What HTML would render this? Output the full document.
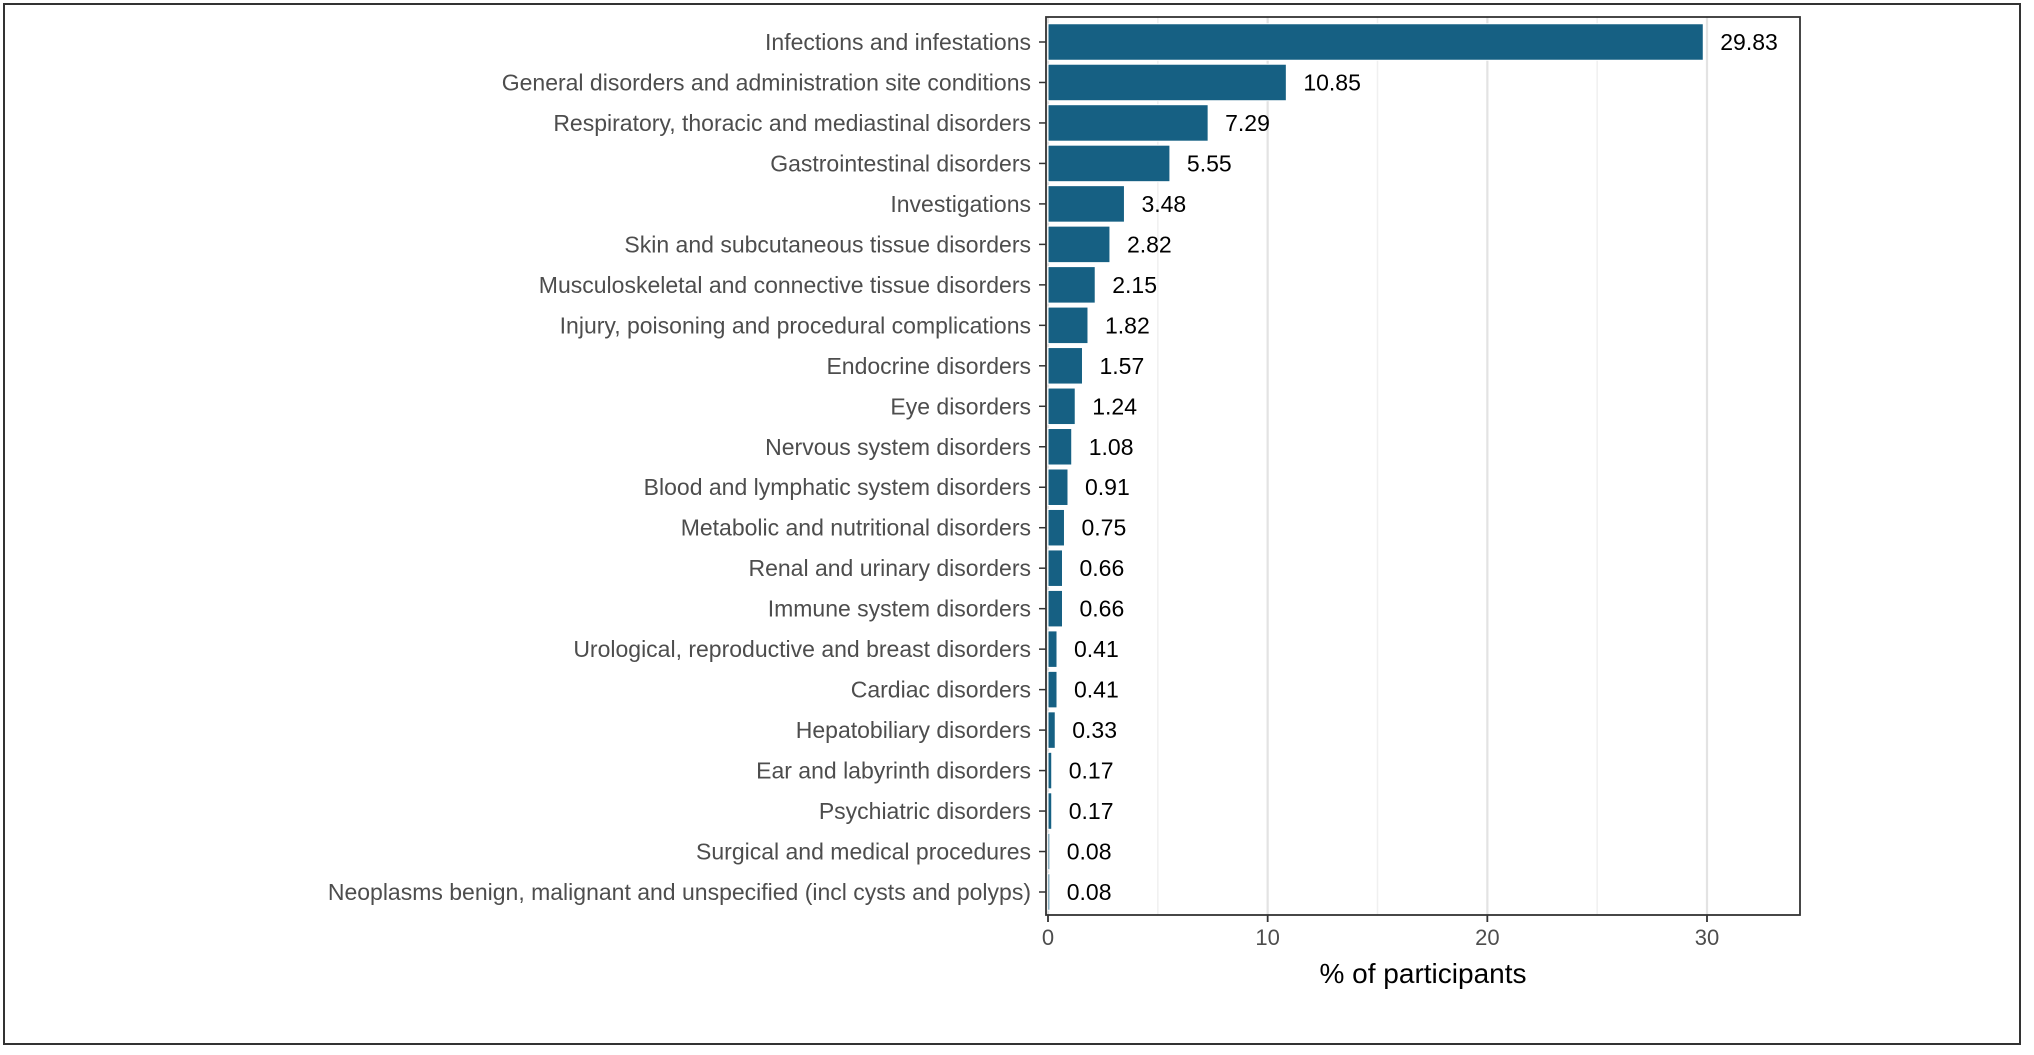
<!DOCTYPE html>
<html><head><meta charset="utf-8"><style>
body{margin:0;background:#fff;}
svg text{font-family:"Liberation Sans",Arial,sans-serif;}
</style></head><body>
<svg id="chart" width="2034" height="1050" xmlns="http://www.w3.org/2000/svg">
<rect x="4" y="4" width="2016" height="1040" fill="none" stroke="#333" stroke-width="2"/>
<g id="grid"></g>
<g id="bars"></g>
<g id="labels"></g>
<rect x="1046" y="17" width="754" height="898" fill="none" stroke="#333" stroke-width="1.8"/>
<g id="xaxis"></g>
<text x="1423" y="983" font-size="28" text-anchor="middle" fill="#000">% of participants</text>
</svg>
<script>
const categories=["Infections and infestations","General disorders and administration site conditions","Respiratory, thoracic and mediastinal disorders","Gastrointestinal disorders","Investigations","Skin and subcutaneous tissue disorders","Musculoskeletal and connective tissue disorders","Injury, poisoning and procedural complications","Endocrine disorders","Eye disorders","Nervous system disorders","Blood and lymphatic system disorders","Metabolic and nutritional disorders","Renal and urinary disorders","Immune system disorders","Urological, reproductive and breast disorders","Cardiac disorders","Hepatobiliary disorders","Ear and labyrinth disorders","Psychiatric disorders","Surgical and medical procedures","Neoplasms benign, malignant and unspecified (incl cysts and polyps)"];
const values=[29.83,10.85,7.29,5.55,3.48,2.82,2.15,1.82,1.57,1.24,1.08,0.91,0.75,0.66,0.66,0.41,0.41,0.33,0.17,0.17,0.08,0.08];
const majorTicks=[0,10,20,30];
const minorTicks=[5,15,25];
const NS="http://www.w3.org/2000/svg";
const x0=1048,pxPer=(1707-1048)/30;
const xs=v=>x0+v*pxPer;
const y0=42,step=(892-42)/21,bh=36.5;
const ys=i=>y0+i*step;
function mk(t,a,p){const e=document.createElementNS(NS,t);for(const k in a)e.setAttribute(k,a[k]);p.appendChild(e);return e;}
const grid=document.getElementById('grid'),bars=document.getElementById('bars'),labels=document.getElementById('labels'),xaxis=document.getElementById('xaxis');
minorTicks.forEach(t=>{const l=mk('line',{x1:xs(t),x2:xs(t),y1:17,y2:915,stroke:'#f0f0f0','stroke-width':1.5},grid);

});
majorTicks.forEach(t=>{const l=mk('line',{x1:xs(t),x2:xs(t),y1:17,y2:915,stroke:'#e3e3e3','stroke-width':2.2},grid);


const tk=mk('line',{x1:xs(t),x2:xs(t),y1:915,y2:922,stroke:'#333','stroke-width':1.8},xaxis);


const tx=mk('text',{x:xs(t),y:945,'font-size':22,'text-anchor':'middle',fill:'#4d4d4d'},xaxis);tx.textContent=t;

});
categories.forEach((c,i)=>{const y=ys(i);
const r=mk('rect',{x:x0,y:y-bh/2,width:Math.max(1,xs(values[i])-x0),height:bh,fill:'#166083',stroke:'#fff','stroke-width':1},bars);


const lt=mk('text',{x:1031,y:y+8,'font-size':23,'text-anchor':'end',fill:'#4d4d4d'},labels);lt.textContent=c;


const vt=mk('text',{x:xs(values[i])+17,y:y+8,'font-size':23,fill:'#000'},labels);vt.textContent=values[i].toFixed(2);


const yt=mk('line',{x1:1039,x2:1046,y1:y,y2:y,stroke:'#333','stroke-width':1.5},xaxis);

});
</script>
</body></html>
